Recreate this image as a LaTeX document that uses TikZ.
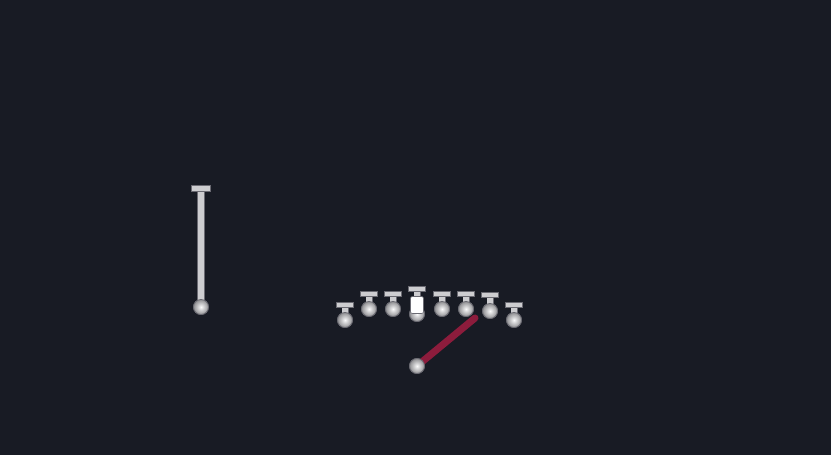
\documentclass[tikz,border=0pt]{standalone}
\usetikzlibrary{shadings}
\definecolor{bg}{HTML}{181B24}
\definecolor{pinfill}{HTML}{CDCDD0}
\definecolor{pinedge}{HTML}{6A6A72}
\definecolor{ballfill}{HTML}{B4B4B8}
\definecolor{needle}{HTML}{8C1C3C}
\tikzset{
  capbox/.style={rectangle, fill=pinfill, draw=pinedge, line width=0.8pt, minimum width=17pt, minimum height=5pt, inner sep=0pt},
  ball/.style={circle, inner color=white!90!pinfill, outer color=ballfill!80!black, draw=pinedge, line width=0.8pt, minimum size=15pt, inner sep=0pt},
  stem/.style={draw=pinedge, line width=7pt},
  steminner/.style={draw=pinfill, line width=5.4pt},
  needleline/.style={draw=needle, line width=7pt, line cap=round},
  mark box/.style={rectangle, rounded corners=2pt, fill=white, draw=pinedge, line width=0.6pt, minimum width=13pt, minimum height=17pt, inner sep=0pt}
}
\newcommand{\gpin}[4]{%
  \node[capbox] (#1cap) at (#2,#3) {};
  \node[ball] (#1ball) at (#2,#4) {};
  \path[stem] (#1cap.center) -- (#1ball.center);
  \path[steminner] (#1cap.center) -- (#1ball.center);
  \node[capbox] at (#1cap) {};
  \node[ball] at (#1ball) {};
}
\begin{document}
\begin{tikzpicture}[x=1pt,y=-1pt]
\fill[bg] (0,0) rectangle (831,455);
\useasboundingbox (0,0) rectangle (831,455);
% left pin
\node[capbox, minimum width=19pt, minimum height=6pt] (lcap) at (201,188) {};
\node[ball] (lball) at (201,307) {};
\path[stem, line width=8.5pt] (lcap.center) -- (lball.center);
\path[steminner, line width=6.8pt] (lcap.center) -- (lball.center);
\node[capbox, minimum width=19pt, minimum height=6pt] at (lcap) {};
\node[ball] at (lball) {};
% gauge pins
\gpin{p1}{345}{304.5}{320}
\gpin{p2}{369}{293.5}{309}
\gpin{p3}{393}{293.5}{309}
\gpin{p4}{417}{288.5}{314}
\node[mark box] (p4mark) at (417,305) {};
\gpin{p5}{442}{293.5}{309}
\gpin{p6}{466}{293.5}{309}
\gpin{p7}{490}{295}{311}
\gpin{p8}{514}{304.5}{320}
% needle
\coordinate (tip) at (475,318);
\node[ball] (pivot) at (417,366) {};
\path[needleline] (pivot.center) -- (tip);
\node[ball] at (pivot) {};
\end{tikzpicture}
\end{document}
